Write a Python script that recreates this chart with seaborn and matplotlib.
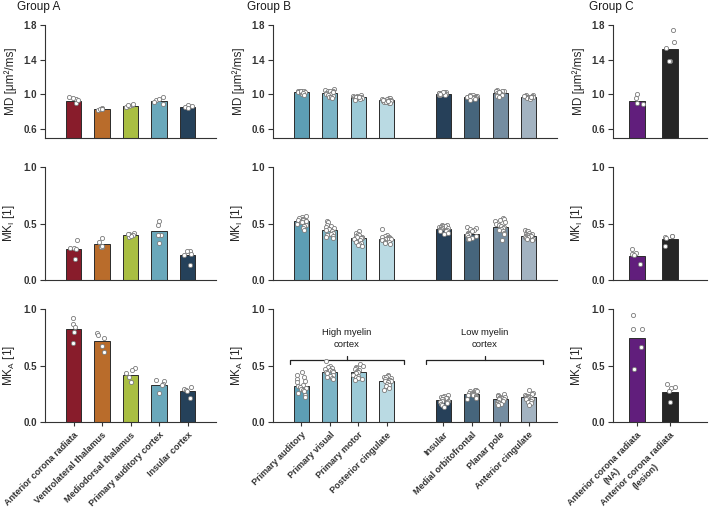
import numpy as np
import pandas as pd
import matplotlib
matplotlib.use("Agg")
import matplotlib.pyplot as plt
import seaborn as sb

# DATA
#-----------------------------------
regions_a = ["Anterior corona radiata", "Ventrolateral thalamus", "Mediodorsal thalamus",
             "Primary auditory cortex", "Insular cortex"]
regions_b = ["Primary auditory", "Primary visual", "Primary motor", "Posterior cingulate",
             "Insular", "Medial orbitofrontal", "Planar pole", "Anterior cingulate"]
regions_c = ["Anterior corona radiata\n(NA)", "Anterior corona radiata\n(lesion)"]

# group A
md_a_mean = [0.92, 0.83, 0.86, 0.92, 0.85]
md_a_points = [[0.97, 0.94, 0.95, 0.90, 0.93],
               [0.84, 0.83, 0.82, 0.83, 0.83],
               [0.87, 0.88, 0.86, 0.85, 0.87],
               [0.97, 0.93, 0.94, 0.88, 0.91],
               [0.87, 0.86, 0.85, 0.84]]
mki_a_mean = [0.275, 0.315, 0.40, 0.43, 0.22]
mki_a_points = [[0.35, 0.28, 0.28, 0.27, 0.19],
                [0.37, 0.34, 0.29, 0.29, 0.30],
                [0.41, 0.42, 0.40, 0.38, 0.39, 0.41],
                [0.52, 0.49, 0.40, 0.40, 0.33],
                [0.26, 0.26, 0.23, 0.22, 0.13]]
mka_a_mean = [0.82, 0.72, 0.42, 0.33, 0.275]
mka_a_points = [[0.92, 0.87, 0.84, 0.80, 0.70],
                [0.79, 0.77, 0.74, 0.67, 0.62],
                [0.48, 0.46, 0.43, 0.40, 0.35],
                [0.37, 0.36, 0.34, 0.33, 0.26],
                [0.31, 0.29, 0.28, 0.27, 0.21]]

# group B
md_b_mean = [1.02, 1.01, 0.96, 0.925, 1.005, 0.97, 1.01, 0.97]
md_b_points = [[1.04, 1.03, 1.03, 1.02, 1.02, 1.02, 1.01, 1.01, 1.01, 1.00, 1.00, 1.03, 1.04, 1.02, 1.01, 0.99],
               [1.06, 1.05, 1.04, 1.03, 1.03, 1.02, 1.01, 1.01, 1.00, 1.00, 0.99, 0.98, 0.97, 0.96, 0.95, 1.02],
               [0.99, 0.98, 0.98, 0.97, 0.97, 0.96, 0.96, 0.96, 0.95, 0.95, 0.95, 0.94, 0.94, 0.96, 0.97, 0.93],
               [0.95, 0.95, 0.94, 0.94, 0.93, 0.93, 0.93, 0.92, 0.92, 0.92, 0.91, 0.91, 0.90, 0.90, 0.93, 0.92],
               [1.02, 1.02, 1.01, 1.01, 1.01, 1.00, 1.00, 1.00, 1.00, 0.99, 0.99, 1.01, 1.00, 0.99, 1.02, 1.00],
               [0.99, 0.99, 0.98, 0.98, 0.97, 0.97, 0.97, 0.96, 0.96, 0.96, 0.95, 0.95, 0.94, 0.97, 0.98, 0.93],
               [1.05, 1.04, 1.04, 1.03, 1.03, 1.02, 1.02, 1.01, 1.01, 1.00, 1.00, 0.99, 0.99, 0.98, 0.97, 1.02],
               [0.99, 0.99, 0.98, 0.98, 0.97, 0.97, 0.97, 0.96, 0.96, 0.96, 0.95, 0.95, 0.94, 0.97, 0.98, 0.96]]
mki_b_mean = [0.52, 0.44, 0.37, 0.365, 0.455, 0.41, 0.47, 0.39]
mki_b_points = [[0.57, 0.56, 0.55, 0.54, 0.54, 0.53, 0.53, 0.52, 0.52, 0.51, 0.51, 0.50, 0.49, 0.48, 0.46, 0.44],
                [0.52, 0.51, 0.49, 0.48, 0.47, 0.46, 0.45, 0.45, 0.44, 0.43, 0.42, 0.41, 0.40, 0.39, 0.38, 0.37],
                [0.43, 0.42, 0.41, 0.40, 0.39, 0.38, 0.38, 0.37, 0.37, 0.36, 0.35, 0.34, 0.33, 0.32, 0.31, 0.30],
                [0.45, 0.40, 0.39, 0.38, 0.38, 0.37, 0.37, 0.36, 0.36, 0.36, 0.35, 0.35, 0.34, 0.34, 0.33, 0.32],
                [0.49, 0.49, 0.48, 0.48, 0.47, 0.47, 0.46, 0.46, 0.45, 0.45, 0.44, 0.44, 0.43, 0.43, 0.42, 0.41],
                [0.47, 0.46, 0.45, 0.44, 0.43, 0.42, 0.42, 0.41, 0.41, 0.40, 0.40, 0.39, 0.38, 0.37, 0.36, 0.36],
                [0.55, 0.54, 0.53, 0.52, 0.51, 0.50, 0.49, 0.48, 0.47, 0.46, 0.45, 0.44, 0.43, 0.42, 0.41, 0.35],
                [0.44, 0.43, 0.43, 0.42, 0.41, 0.41, 0.40, 0.40, 0.39, 0.39, 0.38, 0.38, 0.37, 0.36, 0.36, 0.35]]
mka_b_mean = [0.32, 0.445, 0.44, 0.365, 0.197, 0.247, 0.20, 0.22]
mka_b_points = [[0.44, 0.42, 0.40, 0.38, 0.36, 0.35, 0.33, 0.32, 0.31, 0.30, 0.29, 0.28, 0.27, 0.26, 0.24, 0.22],
                [0.54, 0.50, 0.49, 0.48, 0.47, 0.46, 0.45, 0.45, 0.44, 0.44, 0.43, 0.42, 0.41, 0.40, 0.39, 0.38],
                [0.51, 0.50, 0.49, 0.48, 0.47, 0.46, 0.45, 0.44, 0.44, 0.43, 0.42, 0.41, 0.40, 0.39, 0.38, 0.37],
                [0.42, 0.41, 0.40, 0.40, 0.39, 0.38, 0.37, 0.37, 0.36, 0.36, 0.35, 0.34, 0.33, 0.32, 0.30, 0.28],
                [0.24, 0.23, 0.22, 0.22, 0.21, 0.21, 0.20, 0.20, 0.19, 0.19, 0.18, 0.18, 0.17, 0.16, 0.15, 0.13],
                [0.28, 0.28, 0.27, 0.27, 0.26, 0.26, 0.25, 0.25, 0.24, 0.24, 0.23, 0.23, 0.22, 0.21, 0.21, 0.20],
                [0.25, 0.24, 0.23, 0.22, 0.22, 0.21, 0.21, 0.20, 0.20, 0.19, 0.18, 0.18, 0.17, 0.16, 0.16, 0.15],
                [0.28, 0.26, 0.25, 0.24, 0.23, 0.23, 0.22, 0.22, 0.21, 0.21, 0.20, 0.20, 0.19, 0.18, 0.17, 0.15]]

# group C
md_c_mean = [0.92, 1.52]
md_c_points = [[1.00, 0.95, 0.90, 0.88], [1.74, 1.60, 1.53, 1.38, 1.38]]
mki_c_mean = [0.215, 0.36]
mki_c_points = [[0.27, 0.24, 0.23, 0.22, 0.14], [0.39, 0.39, 0.38, 0.37, 0.30]]
mka_c_mean = [0.74, 0.265]
mka_c_points = [[0.95, 0.82, 0.82, 0.66, 0.47], [0.34, 0.31, 0.30, 0.27, 0.18]]

bracket_labels = ["High myelin\ncortex", "Low myelin\ncortex"]

# STYLE / LAYOUT
#-----------------------------------
colors_a = ["#9a0a1e", "#d06a14", "#b6d22e", "#5cafc9", "#1c4263"]
colors_b = ["#4fa5c2", "#6fbbd3", "#92cfe1", "#b3deea", "#1d4062", "#3d6685", "#6e8da8", "#9eb4c6"]
colors_c = ["#680e8c", "#262626"]
pos_a = [0, 1, 2, 3, 4]
pos_b = [0, 1, 2, 3, 5, 6, 7, 8]
pos_c = [0, 1]

W, H = 709, 514
sb.set_style("ticks")
plt.rcParams["font.family"] = ["Liberation Sans", "DejaVu Sans"]
plt.rcParams["mathtext.default"] = "regular"
plt.rcParams["axes.edgecolor"] = "#333333"
plt.rcParams["axes.linewidth"] = 0.8
plt.rcParams["xtick.color"] = "#333333"
plt.rcParams["ytick.color"] = "#333333"
plt.rcParams["text.color"] = "#1a1a1a"
np.random.seed(7)  # only for the horizontal jitter of the dots


def box(x0, x1, y0, y1):
    return [x0 / W, 1 - y1 / H, (x1 - x0) / W, (y1 - y0) / H]


# PANEL
#-----------------------------------
def bar_panel(ax, pos, names, means, points, colors, xlim, ylim, yticks, ylabel, bottom, bar_w):
    bars = pd.DataFrame({"pos": pos, "region": names, "mean": means})
    sb.barplot(data=bars, x="pos", y="mean", hue="region", palette=dict(zip(names, colors)),
               native_scale=True, dodge=False, width=bar_w, errorbar=None,
               edgecolor="#2b2b2b", linewidth=0.7, legend=False, ax=ax)
    dots = pd.DataFrame([(p, v) for p, vals in zip(pos, points) for v in vals],
                        columns=["pos", "value"])
    sb.stripplot(data=dots, x="pos", y="value", native_scale=True, jitter=0.17,
                 color="white", edgecolor="#7a7a7a", linewidth=0.6, size=3.0,
                 zorder=3, ax=ax)
    ax.set_xlim(xlim)
    ax.set_ylim(ylim)
    ax.set_yticks(yticks)
    ax.set_yticklabels([f"{t:.1f}" for t in yticks], fontweight="bold", fontsize=7)
    ax.set_ylabel(ylabel, fontsize=8.5, labelpad=5)
    ax.set_xlabel("")
    ax.tick_params(axis="y", length=3.5, width=0.8, pad=2)
    if bottom:
        ax.set_xticks(pos)
        ax.set_xticklabels(names, rotation=45, ha="right", rotation_mode="anchor",
                           fontweight="bold", fontsize=6.5, ma="center")
        ax.tick_params(axis="x", length=3, width=0.8, pad=3)
    else:
        ax.set_xticks([])
    sb.despine(ax=ax)


def bracket(ax, x0, x1, y, text):
    xm = (x0 + x1) / 2
    ax.plot([x0, x0, x1, x1], [y - 0.035, y, y, y - 0.035], color="#222222", lw=0.9, clip_on=False)
    ax.plot([xm, xm], [y, y + 0.03], color="#222222", lw=0.9, clip_on=False)
    ax.text(xm, y + 0.19, text, ha="center", va="center", fontsize=6.8, linespacing=1.4)


# MAIN
#-----------------------------------
def main():
    fig = plt.figure(figsize=(W / 100, H / 100), dpi=100)
    rows = [(25, 138), (167, 280), (309, 422)]
    md_label = "MD [μm²/ms]"
    mki_label = "MK$_I$ [1]"
    mka_label = "MK$_A$ [1]"

    groups = [
        (45, 216, pos_a, regions_a, colors_a, (-1, 5), 0.53,
         [md_a_mean, mki_a_mean, mka_a_mean], [md_a_points, mki_a_points, mka_a_points]),
        (273, 557, pos_b, regions_b, colors_b, (-1, 9), 0.53,
         [md_b_mean, mki_b_mean, mka_b_mean], [md_b_points, mki_b_points, mka_b_points]),
        (613, 707, pos_c, regions_c, colors_c, (-0.73, 2.12), 0.5,
         [md_c_mean, mki_c_mean, mka_c_mean], [md_c_points, mki_c_points, mka_c_points]),
    ]
    row_cfg = [((0.49, 1.8), [0.6, 1.0, 1.4, 1.8], md_label),
               ((0.0, 1.0), [0.0, 0.5, 1.0], mki_label),
               ((0.0, 1.0), [0.0, 0.5, 1.0], mka_label)]

    axes_b_bottom = None
    for x0, x1, pos, names, cols, xlim, bw, means, points in groups:
        for r, (y0, y1) in enumerate(rows):
            ax = fig.add_axes(box(x0, x1, y0, y1))
            ylim, yticks, ylabel = row_cfg[r]
            bar_panel(ax, pos, names, means[r], points[r], cols, xlim, ylim, yticks,
                      ylabel, r == 2, bw)
            if names is regions_b and r == 2:
                axes_b_bottom = ax

    bracket(axes_b_bottom, -0.4, 3.6, 0.55, bracket_labels[0])
    bracket(axes_b_bottom, 4.4, 8.5, 0.55, bracket_labels[1])

    for x, t in [(17, "Group A"), (247, "Group B"), (589, "Group C")]:
        fig.text(x / W, 1 - 7 / H, t, fontsize=8.5, ha="left", va="center")

    fig.savefig("out.png", dpi=100)


# RUN
#-----------------------------------
if __name__ == "__main__":
    main()
